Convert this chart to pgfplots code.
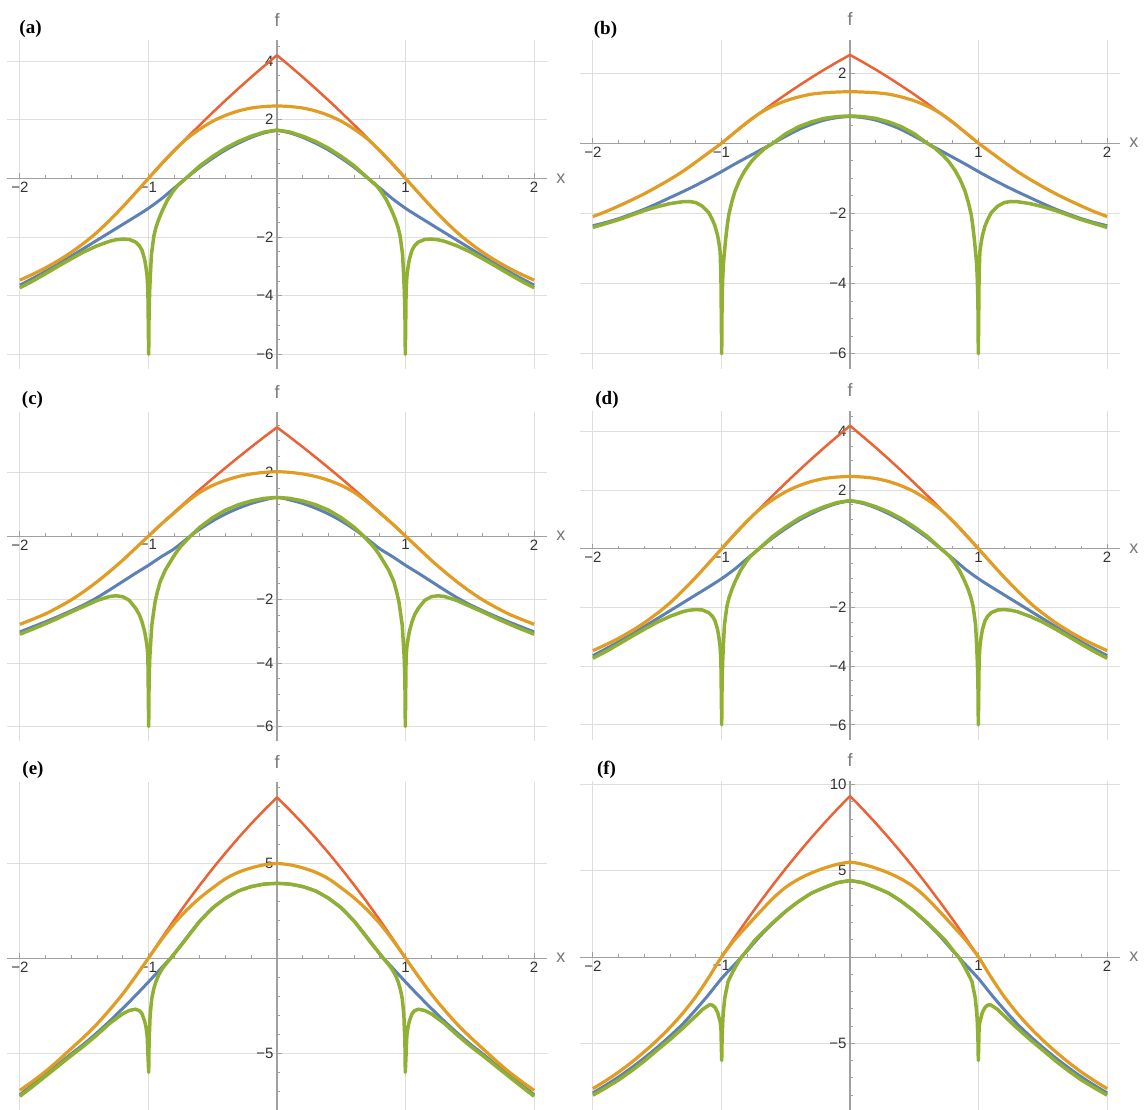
\documentclass[border=0pt]{standalone}
\usepackage{fontspec}
\setmainfont{Liberation Sans}
\newfontfamily\serifb{Liberation Serif}
\usepackage{pgfplots}
\pgfplotsset{compat=1.18}
\definecolor{mblue}{HTML}{5E81B5}
\definecolor{morange}{HTML}{E19C24}
\definecolor{mgreen}{HTML}{8FB032}
\definecolor{mred}{HTML}{EB6235}
\definecolor{gridc}{HTML}{DEDEDE}
\definecolor{axisc}{HTML}{A0A0A0}
\definecolor{tickc}{HTML}{333333}
\definecolor{labc}{HTML}{777777}
\pgfplotsset{
 mma/.style={
  anchor=south west, scale only axis, width=540pt, height=329pt,
  axis lines=middle, axis line style={-, draw=axisc, line width=1.1pt},
  xmin=-2.1, xmax=2.1,
  xtick={-2,-1,1,2}, xticklabels={−2,−1,1,2},
  minor xtick={-1.8,-1.6,-1.4,-1.2,-0.8,-0.6,-0.4,-0.2,0.2,0.4,0.6,0.8,1.2,1.4,1.6,1.8},
  grid=major, major grid style={draw=gridc, line width=1pt},
  tick style={draw=axisc, line width=1pt},
  major tick length=5pt, minor tick length=3pt,
  tick align=inside,
  ticklabel style={font=\fontsize{15}{15}\selectfont, text=tickc},
  xlabel={x}, ylabel={f},
  every axis x label/.style={at={(current axis.right of origin)}, anchor=west, xshift=9pt, inner sep=0pt, font=\fontsize{18}{18}\selectfont, text=labc},
  every axis y label/.style={at={(current axis.above origin)}, anchor=south, yshift=14pt, inner sep=0pt, font=\fontsize{18}{18}\selectfont, text=labc},
 },
 cred/.style={draw=mred, line width=2.5pt, line join=round, no markers},
 cblue/.style={draw=mblue, line width=3pt, line join=round, no markers, smooth},
 corange/.style={draw=morange, line width=3.2pt, line join=round, no markers, smooth},
 cgreen/.style={draw=mgreen, line width=3.5pt, line join=round, no markers},
 minorA/.style={minor ytick={-5.5,-5,-4.5,-3.5,-3,-2.5,-1.5,-1,-0.5,0.5,1,1.5,2.5,3,3.5,4.5}},
 minorE/.style={minor ytick={-8,-7,-6,-4,-3,-2,-1,1,2,3,4,6,7,8,9}},
}
\newcommand{\curvesA}{%
\addplot[cred] coordinates {(-1,0)(-0.9,0.474)(-0.8,0.936)(-0.7,1.386)(-0.6,1.824)(-0.5,2.25)(-0.4,2.664)(-0.3,3.066)(-0.2,3.456)(-0.1,3.834)(0,4.2)(0.1,3.834)(0.2,3.456)(0.3,3.066)(0.4,2.664)(0.5,2.25)(0.6,1.824)(0.7,1.386)(0.8,0.936)(0.9,0.474)(1,0)};
\addplot[cblue] coordinates {(-2,-3.64)(-1.9,-3.41)(-1.8,-3.17)(-1.7,-2.92)(-1.6,-2.65)(-1.5,-2.38)(-1.4,-2.11)(-1.3,-1.84)(-1.2,-1.57)(-1.1,-1.3)(-1,-1.02)(-0.9,-0.7)(-0.8,-0.33)(-0.7,0.03)(-0.6,0.38)(-0.5,0.69)(-0.4,0.97)(-0.3,1.2)(-0.2,1.4)(-0.1,1.55)(0,1.63)(0.1,1.55)(0.2,1.4)(0.3,1.2)(0.4,0.97)(0.5,0.69)(0.6,0.38)(0.7,0.03)(0.8,-0.33)(0.9,-0.7)(1,-1.02)(1.1,-1.3)(1.2,-1.57)(1.3,-1.84)(1.4,-2.11)(1.5,-2.38)(1.6,-2.65)(1.7,-2.92)(1.8,-3.17)(1.9,-3.41)(2,-3.64)};
\addplot[corange] coordinates {(-2,-3.47)(-1.9,-3.27)(-1.8,-3.05)(-1.7,-2.8)(-1.6,-2.52)(-1.5,-2.2)(-1.4,-1.84)(-1.3,-1.42)(-1.2,-0.97)(-1.1,-0.49)(-1,0)(-0.9,0.49)(-0.8,0.95)(-0.7,1.36)(-0.6,1.68)(-0.5,1.95)(-0.4,2.15)(-0.3,2.3)(-0.2,2.4)(-0.1,2.45)(0,2.47)(0.1,2.45)(0.2,2.4)(0.3,2.3)(0.4,2.15)(0.5,1.95)(0.6,1.68)(0.7,1.36)(0.8,0.95)(0.9,0.49)(1,0)(1.1,-0.49)(1.2,-0.97)(1.3,-1.42)(1.4,-1.84)(1.5,-2.2)(1.6,-2.52)(1.7,-2.8)(1.8,-3.05)(1.9,-3.27)(2,-3.47)};
\addplot[cgreen] coordinates {(-2,-3.73)(-1.9,-3.5)(-1.8,-3.25)(-1.7,-2.99)(-1.6,-2.74)(-1.5,-2.5)(-1.4,-2.3)(-1.3,-2.14)(-1.25,-2.09)(-1.2,-2.07)(-1.15,-2.08)(-1.1,-2.17)(-1.07,-2.3)(-1.05,-2.45)(-1.03,-2.75)(-1.02,-3)(-1.01,-3.35)(-1.004,-3.85)(-0.998,-6)(-0.995,-4.55)(-0.99,-3.8)(-0.985,-3.3)(-0.977,-2.61)(-0.965,-2.2)(-0.956,-1.93)(-0.94,-1.65)(-0.917,-1.36)(-0.89,-1.08)(-0.852,-0.74)(-0.81,-0.45)(-0.774,-0.25)(-0.709,0)(-0.6,0.43)(-0.5,0.75)(-0.4,1.03)(-0.3,1.26)(-0.2,1.44)(-0.1,1.58)(0,1.65)(0.1,1.58)(0.2,1.44)(0.3,1.26)(0.4,1.03)(0.5,0.75)(0.6,0.43)(0.709,0)(0.774,-0.25)(0.81,-0.45)(0.852,-0.74)(0.89,-1.08)(0.917,-1.36)(0.94,-1.65)(0.956,-1.93)(0.965,-2.2)(0.977,-2.61)(0.985,-3.3)(0.99,-3.8)(0.995,-4.55)(0.998,-6)(1.004,-3.85)(1.01,-3.35)(1.02,-3)(1.03,-2.75)(1.05,-2.45)(1.07,-2.3)(1.1,-2.17)(1.15,-2.08)(1.2,-2.07)(1.25,-2.09)(1.3,-2.14)(1.4,-2.3)(1.5,-2.5)(1.6,-2.74)(1.7,-2.99)(1.8,-3.25)(1.9,-3.5)(2,-3.73)};
}
\begin{document}
\begin{tikzpicture}
\useasboundingbox (0pt,0pt) rectangle (1145pt,1109pt);
% (a)
\begin{axis}[mma, at={(7pt,739.7pt)}, ymin=-6.51, ymax=4.71, ytick={-6,-4,-2,2,4}, yticklabels={−6,−4,−2,2,4}, minorA]
\curvesA
\end{axis}
% (b)
\begin{axis}[mma, at={(580pt,740.2pt)}, ymin=-6.43, ymax=2.95, ytick={-6,-4,-2,2}, yticklabels={−6,−4,−2,2}, minorA]
\addplot[cred] coordinates {(-1,0)(-0.9,0.299)(-0.8,0.588)(-0.7,0.867)(-0.6,1.134)(-0.5,1.392)(-0.4,1.638)(-0.3,1.875)(-0.2,2.1)(-0.1,2.315)(0,2.52)(0.1,2.315)(0.2,2.1)(0.3,1.875)(0.4,1.638)(0.5,1.392)(0.6,1.134)(0.7,0.867)(0.8,0.588)(0.9,0.299)(1,0)};
\addplot[cblue] coordinates {(-2,-2.35)(-1.9,-2.26)(-1.8,-2.15)(-1.7,-2.02)(-1.6,-1.88)(-1.5,-1.72)(-1.4,-1.55)(-1.3,-1.38)(-1.2,-1.2)(-1.1,-1.01)(-1,-0.81)(-0.9,-0.6)(-0.8,-0.4)(-0.7,-0.2)(-0.6,0)(-0.5,0.2)(-0.4,0.39)(-0.3,0.54)(-0.2,0.66)(-0.1,0.73)(0,0.76)(0.1,0.73)(0.2,0.66)(0.3,0.54)(0.4,0.39)(0.5,0.2)(0.6,0)(0.7,-0.2)(0.8,-0.4)(0.9,-0.6)(1,-0.81)(1.1,-1.01)(1.2,-1.2)(1.3,-1.38)(1.4,-1.55)(1.5,-1.72)(1.6,-1.88)(1.7,-2.02)(1.8,-2.15)(1.9,-2.26)(2,-2.35)};
\addplot[corange] coordinates {(-2,-2.09)(-1.9,-1.95)(-1.8,-1.79)(-1.7,-1.62)(-1.6,-1.44)(-1.5,-1.24)(-1.4,-1.03)(-1.3,-0.8)(-1.2,-0.54)(-1.1,-0.27)(-1,0)(-0.9,0.3)(-0.8,0.6)(-0.7,0.86)(-0.6,1.06)(-0.5,1.21)(-0.4,1.32)(-0.3,1.4)(-0.2,1.44)(-0.1,1.46)(0,1.47)(0.1,1.46)(0.2,1.44)(0.3,1.4)(0.4,1.32)(0.5,1.21)(0.6,1.06)(0.7,0.86)(0.8,0.6)(0.9,0.3)(1,0)(1.1,-0.27)(1.2,-0.54)(1.3,-0.8)(1.4,-1.03)(1.5,-1.24)(1.6,-1.44)(1.7,-1.62)(1.8,-1.79)(1.9,-1.95)(2,-2.09)};
\addplot[cgreen] coordinates {(-2,-2.4)(-1.9,-2.29)(-1.8,-2.18)(-1.7,-2.05)(-1.6,-1.92)(-1.5,-1.81)(-1.4,-1.72)(-1.3,-1.665)(-1.25,-1.66)(-1.2,-1.69)(-1.15,-1.79)(-1.1,-1.97)(-1.07,-2.18)(-1.05,-2.36)(-1.03,-2.63)(-1.02,-2.83)(-1.01,-3.1)(-1.004,-3.75)(-0.998,-6)(-0.995,-4.51)(-0.99,-3.85)(-0.984,-3.4)(-0.969,-2.8)(-0.955,-2.35)(-0.943,-2.04)(-0.92,-1.68)(-0.896,-1.38)(-0.86,-1.06)(-0.818,-0.78)(-0.77,-0.53)(-0.727,-0.36)(-0.66,-0.14)(-0.6,0)(-0.5,0.27)(-0.4,0.47)(-0.3,0.61)(-0.2,0.71)(-0.1,0.76)(0,0.78)(0.1,0.76)(0.2,0.71)(0.3,0.61)(0.4,0.47)(0.5,0.27)(0.6,0)(0.66,-0.14)(0.727,-0.36)(0.77,-0.53)(0.818,-0.78)(0.86,-1.06)(0.896,-1.38)(0.92,-1.68)(0.943,-2.04)(0.955,-2.35)(0.969,-2.8)(0.984,-3.4)(0.99,-3.85)(0.995,-4.51)(0.998,-6)(1.004,-3.75)(1.01,-3.1)(1.02,-2.83)(1.03,-2.63)(1.05,-2.36)(1.07,-2.18)(1.1,-1.97)(1.15,-1.79)(1.2,-1.69)(1.25,-1.66)(1.3,-1.665)(1.4,-1.72)(1.5,-1.81)(1.6,-1.92)(1.7,-2.05)(1.8,-2.18)(1.9,-2.29)(2,-2.4)};
\end{axis}
% (c)
\begin{axis}[mma, at={(7pt,367.6pt)}, ymin=-6.47, ymax=3.9, ytick={-6,-4,-2,2}, yticklabels={−6,−4,−2,2}, minorA]
\addplot[cred] coordinates {(-1,0)(-0.9,0.38)(-0.8,0.752)(-0.7,1.115)(-0.6,1.471)(-0.5,1.818)(-0.4,2.157)(-0.3,2.487)(-0.2,2.81)(-0.1,3.124)(0,3.43)(0.1,3.124)(0.2,2.81)(0.3,2.487)(0.4,2.157)(0.5,1.818)(0.6,1.471)(0.7,1.115)(0.8,0.752)(0.9,0.38)(1,0)};
\addplot[cblue] coordinates {(-2,-3.02)(-1.9,-2.86)(-1.8,-2.7)(-1.7,-2.53)(-1.6,-2.35)(-1.5,-2.16)(-1.4,-1.94)(-1.3,-1.69)(-1.2,-1.43)(-1.1,-1.17)(-1,-0.92)(-0.9,-0.65)(-0.8,-0.4)(-0.7,-0.08)(-0.6,0.22)(-0.5,0.48)(-0.4,0.7)(-0.3,0.88)(-0.2,1.03)(-0.1,1.14)(0,1.22)(0.1,1.14)(0.2,1.03)(0.3,0.88)(0.4,0.7)(0.5,0.48)(0.6,0.22)(0.7,-0.08)(0.8,-0.4)(0.9,-0.65)(1,-0.92)(1.1,-1.17)(1.2,-1.43)(1.3,-1.69)(1.4,-1.94)(1.5,-2.16)(1.6,-2.35)(1.7,-2.53)(1.8,-2.7)(1.9,-2.86)(2,-3.02)};
\addplot[corange] coordinates {(-2,-2.78)(-1.9,-2.62)(-1.8,-2.45)(-1.7,-2.24)(-1.6,-2.01)(-1.5,-1.74)(-1.4,-1.44)(-1.3,-1.11)(-1.2,-0.76)(-1.1,-0.38)(-1,0)(-0.9,0.38)(-0.8,0.73)(-0.7,1.08)(-0.6,1.38)(-0.5,1.6)(-0.4,1.76)(-0.3,1.88)(-0.2,1.96)(-0.1,2.01)(0,2.03)(0.1,2.01)(0.2,1.96)(0.3,1.88)(0.4,1.76)(0.5,1.6)(0.6,1.38)(0.7,1.08)(0.8,0.73)(0.9,0.38)(1,0)(1.1,-0.38)(1.2,-0.76)(1.3,-1.11)(1.4,-1.44)(1.5,-1.74)(1.6,-2.01)(1.7,-2.24)(1.8,-2.45)(1.9,-2.62)(2,-2.78)};
\addplot[cgreen] coordinates {(-2,-3.09)(-1.9,-2.93)(-1.8,-2.76)(-1.7,-2.58)(-1.6,-2.39)(-1.5,-2.21)(-1.4,-2.03)(-1.3,-1.9)(-1.25,-1.88)(-1.2,-1.91)(-1.15,-2.02)(-1.1,-2.27)(-1.07,-2.48)(-1.05,-2.7)(-1.03,-3)(-1.02,-3.22)(-1.01,-3.5)(-1.004,-3.81)(-0.998,-6)(-0.995,-4.6)(-0.99,-3.9)(-0.987,-3.65)(-0.974,-2.81)(-0.96,-2.4)(-0.948,-2.07)(-0.93,-1.75)(-0.909,-1.44)(-0.87,-1.08)(-0.83,-0.81)(-0.79,-0.55)(-0.752,-0.34)(-0.674,0)(-0.6,0.28)(-0.5,0.58)(-0.4,0.82)(-0.3,0.99)(-0.2,1.11)(-0.1,1.19)(0,1.22)(0.1,1.19)(0.2,1.11)(0.3,0.99)(0.4,0.82)(0.5,0.58)(0.6,0.28)(0.674,0)(0.752,-0.34)(0.79,-0.55)(0.83,-0.81)(0.87,-1.08)(0.909,-1.44)(0.93,-1.75)(0.948,-2.07)(0.96,-2.4)(0.974,-2.81)(0.987,-3.65)(0.99,-3.9)(0.995,-4.6)(0.998,-6)(1.004,-3.81)(1.01,-3.5)(1.02,-3.22)(1.03,-3)(1.05,-2.7)(1.07,-2.48)(1.1,-2.27)(1.15,-2.02)(1.2,-1.91)(1.25,-1.88)(1.3,-1.9)(1.4,-2.03)(1.5,-2.21)(1.6,-2.39)(1.7,-2.58)(1.8,-2.76)(1.9,-2.93)(2,-3.09)};
\end{axis}
% (d)
\begin{axis}[mma, at={(580pt,369.2pt)}, ymin=-6.51, ymax=4.71, ytick={-6,-4,-2,2,4}, yticklabels={−6,−4,−2,2,4}, minorA]
\curvesA
\end{axis}
% (e)
\begin{axis}[mma, at={(7pt,-2.3pt)}, ymin=-8.05, ymax=9.25, ytick={-5,5}, yticklabels={−5,5}, minorE]
\addplot[cred] coordinates {(-1,0)(-0.9,1.021)(-0.8,2.003)(-0.7,2.947)(-0.6,3.851)(-0.5,4.716)(-0.4,5.543)(-0.3,6.331)(-0.2,7.079)(-0.1,7.789)(0,8.46)(0.1,7.789)(0.2,7.079)(0.3,6.331)(0.4,5.543)(0.5,4.716)(0.6,3.851)(0.7,2.947)(0.8,2.003)(0.9,1.021)(1,0)};
\addplot[cblue] coordinates {(-2,-7.18)(-1.9,-6.65)(-1.8,-6.12)(-1.7,-5.58)(-1.6,-5.03)(-1.5,-4.5)(-1.4,-3.92)(-1.3,-3.3)(-1.2,-2.64)(-1.1,-1.96)(-1,-1.25)(-0.9,-0.52)(-0.8,0.22)(-0.7,1.11)(-0.6,1.95)(-0.5,2.64)(-0.4,3.15)(-0.3,3.53)(-0.2,3.76)(-0.1,3.89)(0,3.93)(0.1,3.89)(0.2,3.76)(0.3,3.53)(0.4,3.15)(0.5,2.64)(0.6,1.95)(0.7,1.11)(0.8,0.22)(0.9,-0.52)(1,-1.25)(1.1,-1.96)(1.2,-2.64)(1.3,-3.3)(1.4,-3.92)(1.5,-4.5)(1.6,-5.03)(1.7,-5.58)(1.8,-6.12)(1.9,-6.65)(2,-7.18)};
\addplot[corange] coordinates {(-2,-6.95)(-1.9,-6.47)(-1.8,-5.95)(-1.7,-5.37)(-1.6,-4.75)(-1.5,-4.13)(-1.4,-3.46)(-1.3,-2.7)(-1.2,-1.88)(-1.1,-0.96)(-1,0)(-0.9,0.96)(-0.8,1.82)(-0.7,2.55)(-0.6,3.17)(-0.5,3.7)(-0.4,4.18)(-0.3,4.52)(-0.2,4.75)(-0.1,4.91)(0,4.98)(0.1,4.91)(0.2,4.75)(0.3,4.52)(0.4,4.18)(0.5,3.7)(0.6,3.17)(0.7,2.55)(0.8,1.82)(0.9,0.96)(1,0)(1.1,-0.96)(1.2,-1.88)(1.3,-2.7)(1.4,-3.46)(1.5,-4.13)(1.6,-4.75)(1.7,-5.37)(1.8,-5.95)(1.9,-6.47)(2,-6.95)};
\addplot[cgreen] coordinates {(-2,-7.26)(-1.9,-6.74)(-1.8,-6.2)(-1.7,-5.66)(-1.6,-5.12)(-1.5,-4.6)(-1.4,-4.03)(-1.3,-3.42)(-1.2,-2.92)(-1.15,-2.75)(-1.1,-2.68)(-1.07,-2.76)(-1.05,-2.92)(-1.03,-3.3)(-1.02,-3.58)(-1.01,-4.05)(-0.998,-6)(-0.995,-4.4)(-0.99,-3.6)(-0.987,-3)(-0.974,-2.12)(-0.96,-1.65)(-0.943,-1.25)(-0.92,-0.88)(-0.891,-0.54)(-0.86,-0.27)(-0.826,0)(-0.78,0.4)(-0.735,0.77)(-0.7,1.08)(-0.6,1.95)(-0.5,2.65)(-0.4,3.16)(-0.3,3.54)(-0.2,3.77)(-0.1,3.9)(0,3.94)(0.1,3.9)(0.2,3.77)(0.3,3.54)(0.4,3.16)(0.5,2.65)(0.6,1.95)(0.7,1.08)(0.735,0.77)(0.78,0.4)(0.826,0)(0.86,-0.27)(0.891,-0.54)(0.92,-0.88)(0.943,-1.25)(0.96,-1.65)(0.974,-2.12)(0.987,-3)(0.99,-3.6)(0.995,-4.4)(0.998,-6)(1.01,-4.05)(1.02,-3.58)(1.03,-3.3)(1.05,-2.92)(1.07,-2.76)(1.1,-2.68)(1.15,-2.75)(1.2,-2.92)(1.3,-3.42)(1.4,-4.03)(1.5,-4.6)(1.6,-5.12)(1.7,-5.66)(1.8,-6.2)(1.9,-6.74)(2,-7.26)};
\end{axis}
% (f)
\begin{axis}[mma, at={(580pt,-1.2pt)}, ymin=-8.88, ymax=10.2, ytick={-5,5,10}, yticklabels={−5,5,10}, minorE]
\addplot[cred] coordinates {(-1,0)(-0.9,1.102)(-0.8,2.167)(-0.7,3.194)(-0.6,4.184)(-0.5,5.137)(-0.4,6.052)(-0.3,6.93)(-0.2,7.771)(-0.1,8.574)(0,9.34)(0.1,8.574)(0.2,7.771)(0.3,6.93)(0.4,6.052)(0.5,5.137)(0.6,4.184)(0.7,3.194)(0.8,2.167)(0.9,1.102)(1,0)};
\addplot[cblue] coordinates {(-2,-7.88)(-1.9,-7.43)(-1.8,-6.95)(-1.7,-6.42)(-1.6,-5.85)(-1.5,-5.24)(-1.4,-4.58)(-1.3,-3.87)(-1.2,-3.05)(-1.1,-2.18)(-1,-1.25)(-0.9,-0.45)(-0.8,0.36)(-0.7,1.21)(-0.6,1.96)(-0.5,2.64)(-0.4,3.22)(-0.3,3.7)(-0.2,4.02)(-0.1,4.3)(0,4.42)(0.1,4.3)(0.2,4.02)(0.3,3.7)(0.4,3.22)(0.5,2.64)(0.6,1.96)(0.7,1.21)(0.8,0.36)(0.9,-0.45)(1,-1.25)(1.1,-2.18)(1.2,-3.05)(1.3,-3.87)(1.4,-4.58)(1.5,-5.24)(1.6,-5.85)(1.7,-6.42)(1.8,-6.95)(1.9,-7.43)(2,-7.88)};
\addplot[corange] coordinates {(-2,-7.63)(-1.9,-7.17)(-1.8,-6.67)(-1.7,-6.11)(-1.6,-5.49)(-1.5,-4.82)(-1.4,-4.08)(-1.3,-3.25)(-1.2,-2.3)(-1.1,-1.2)(-1,0)(-0.9,0.98)(-0.8,1.81)(-0.7,2.62)(-0.6,3.4)(-0.5,4.05)(-0.4,4.52)(-0.3,4.88)(-0.2,5.16)(-0.1,5.38)(0,5.5)(0.1,5.38)(0.2,5.16)(0.3,4.88)(0.4,4.52)(0.5,4.05)(0.6,3.4)(0.7,2.62)(0.8,1.81)(0.9,0.98)(1,0)(1.1,-1.2)(1.2,-2.3)(1.3,-3.25)(1.4,-4.08)(1.5,-4.82)(1.6,-5.49)(1.7,-6.11)(1.8,-6.67)(1.9,-7.17)(2,-7.63)};
\addplot[cgreen] coordinates {(-2,-8.01)(-1.9,-7.58)(-1.8,-7.13)(-1.7,-6.6)(-1.6,-6.03)(-1.5,-5.4)(-1.4,-4.78)(-1.3,-4.12)(-1.2,-3.42)(-1.15,-3.05)(-1.1,-2.8)(-1.09,-2.76)(-1.07,-2.79)(-1.05,-2.92)(-1.03,-3.2)(-1.02,-3.48)(-1.01,-3.75)(-1.004,-4.07)(-0.998,-6)(-0.995,-4.69)(-0.99,-3.8)(-0.987,-3.34)(-0.974,-2.37)(-0.96,-1.85)(-0.948,-1.41)(-0.92,-0.98)(-0.896,-0.64)(-0.87,-0.3)(-0.844,0)(-0.8,0.4)(-0.74,0.98)(-0.7,1.28)(-0.6,2)(-0.5,2.66)(-0.4,3.23)(-0.3,3.71)(-0.2,4.04)(-0.1,4.32)(0,4.44)(0.1,4.32)(0.2,4.04)(0.3,3.71)(0.4,3.23)(0.5,2.66)(0.6,2)(0.7,1.28)(0.74,0.98)(0.8,0.4)(0.844,0)(0.87,-0.3)(0.896,-0.64)(0.92,-0.98)(0.948,-1.41)(0.96,-1.85)(0.974,-2.37)(0.987,-3.34)(0.99,-3.8)(0.995,-4.69)(0.998,-6)(1.004,-4.07)(1.01,-3.75)(1.02,-3.48)(1.03,-3.2)(1.05,-2.92)(1.07,-2.79)(1.09,-2.76)(1.1,-2.8)(1.15,-3.05)(1.2,-3.42)(1.3,-4.12)(1.4,-4.78)(1.5,-5.4)(1.6,-6.03)(1.7,-6.6)(1.8,-7.13)(1.9,-7.58)(2,-8.01)};
\end{axis}
\node[font=\serifb\bfseries\fontsize{19}{19}\selectfont] at (30.5pt,1080pt) {(a)};
\node[font=\serifb\bfseries\fontsize{19}{19}\selectfont] at (605.5pt,1079pt) {(b)};
\node[font=\serifb\bfseries\fontsize{19}{19}\selectfont] at (32.5pt,709pt) {(c)};
\node[font=\serifb\bfseries\fontsize{19}{19}\selectfont] at (607pt,709pt) {(d)};
\node[font=\serifb\bfseries\fontsize{19}{19}\selectfont] at (33pt,339pt) {(e)};
\node[font=\serifb\bfseries\fontsize{19}{19}\selectfont] at (606.5pt,339pt) {(f)};
\end{tikzpicture}
\end{document}
